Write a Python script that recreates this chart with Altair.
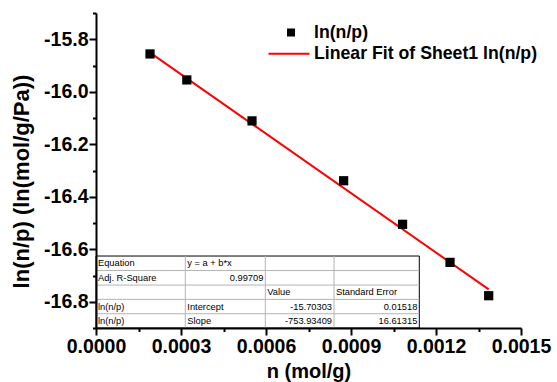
import altair as alt
import pandas as pd

# ---- data ----
n_vals = [0.0001906, 0.0003205, 0.0005506, 0.000874, 0.001082, 0.0012495, 0.001386]
ln_vals = [-15.856, -15.955, -16.111, -16.339, -16.505, -16.650, -16.777]
fit_n = [0.0001906, 0.001386]
fit_ln = [-15.851, -16.753]

x_major = [0.0, 0.0003, 0.0006, 0.0009, 0.0012, 0.0015]
x_minor = [0.00015, 0.00045, 0.00075, 0.00105, 0.00135]
y_major = [-15.8, -16.0, -16.2, -16.4, -16.6, -16.8]
y_minor = [-15.7, -15.9, -16.1, -16.3, -16.5, -16.7, -16.9]

legend_labels = ["ln(n/p)", "Linear Fit of Sheet1 ln(n/p)"]

table_col1 = ["Equation", "Adj. R-Square", "", "ln(n/p)", "ln(n/p)"]
table_col2 = ["y = a + b*x", "0.99709", "", "Intercept", "Slope"]
table_col3 = ["", "", "Value", "-15.70303", "-753.93409"]
table_col4 = ["", "", "Standard Error", "0.01518", "16.61315"]

# table layout (in data units of the plot)
col_edges = [0.0, 0.0003152, 0.0005976, 0.00084, 0.0011411]
row_edges = [-16.6258, -16.6811, -16.7364, -16.7909, -16.8457, -16.9]

FONT = "Liberation Sans"
xs = alt.Scale(domain=[0, 0.0015], nice=False, zero=False)
ys = alt.Scale(domain=[-16.9, -15.7], nice=False, zero=False)

pts = pd.DataFrame({"n": n_vals, "ln": ln_vals})
fit = pd.DataFrame({"n": fit_n, "ln": fit_ln})

common_axis = dict(domainColor="black", tickColor="black", grid=False, zindex=2,
                   labelFont=FONT, labelColor="black", titleFont=FONT, titleColor="black")

x_axis_major = alt.Axis(values=x_major, format=".4f", orient="bottom",
                        tickSize=7, tickWidth=2, domainWidth=2,
                        labelFontSize=19.5, labelFontWeight="bold", labelPadding=2,
                        labelFlush=False, labelOverlap=False,
                        title="n (mol/g)", titleFontSize=20, titleFontWeight="bold",
                        titleBaseline="alphabetic", titleY=49, **common_axis)
y_axis_major = alt.Axis(values=y_major, orient="left",
                        labelExpr="(datum.value < 0 ? '-' : '') + format(abs(datum.value), '.1f')",
                        tickSize=7, tickWidth=2, domainWidth=2,
                        labelFontSize=19.5, labelFontWeight="bold", labelPadding=1,
                        labelFlush=False, labelOverlap=False,
                        title="ln(n/p) (ln(mol/g/Pa))", titleFontSize=22, titleFontWeight="bold",
                        titleBaseline="alphabetic", titleX=-68, titleY=168, titleAngle=270,
                        **common_axis)
x_axis_minor = alt.Axis(values=x_minor, orient="bottom", labels=False, domain=False,
                        tickSize=3.5, tickWidth=2, title="", **common_axis)
y_axis_minor = alt.Axis(values=y_minor, orient="left", labels=False, domain=False,
                        tickSize=3.5, tickWidth=2, title="", **common_axis)

points = alt.Chart(pts).mark_square(size=85, color="black", opacity=1).encode(
    x=alt.X("n:Q", scale=xs, axis=x_axis_major),
    y=alt.Y("ln:Q", scale=ys, axis=y_axis_major),
)
minor = alt.Chart(pts).mark_square(size=1, opacity=0).encode(
    x=alt.X("n:Q", scale=xs, axis=x_axis_minor),
    y=alt.Y("ln:Q", scale=ys, axis=y_axis_minor),
)
line = alt.Chart(fit).mark_line(color="#ff0000", strokeWidth=2).encode(
    x=alt.X("n:Q", scale=xs, axis=None),
    y=alt.Y("ln:Q", scale=ys, axis=None),
)

# ---- table ----
box = pd.DataFrame({"x0": [col_edges[0]], "x1": [col_edges[-1]],
                    "y0": [row_edges[-1]], "y1": [row_edges[0]]})
table_box = alt.Chart(box).mark_rect(fill="white", stroke="black", strokeWidth=1).encode(
    x=alt.X("x0:Q", scale=xs, axis=None), x2="x1:Q",
    y=alt.Y("y0:Q", scale=ys, axis=None), y2="y1:Q",
)
hl = pd.DataFrame({"x0": [col_edges[0]] * 4, "x1": [col_edges[-1]] * 4, "y": row_edges[1:5]})
hlines = alt.Chart(hl).mark_rule(color="#b4b4b4", strokeWidth=1).encode(
    x=alt.X("x0:Q", scale=xs, axis=None), x2="x1:Q",
    y=alt.Y("y:Q", scale=ys, axis=None),
)
vl = pd.DataFrame({"x": col_edges[1:4], "y0": [row_edges[-1]] * 3, "y1": [row_edges[0]] * 3})
vlines = alt.Chart(vl).mark_rule(color="#b4b4b4", strokeWidth=1).encode(
    x=alt.X("x:Q", scale=xs, axis=None),
    y=alt.Y("y0:Q", scale=ys, axis=None), y2="y1:Q",
)

cells = []
cols = [table_col1, table_col2, table_col3, table_col4]
for c, col in enumerate(cols):
    for r, txt in enumerate(col):
        if not txt:
            continue
        numeric = txt[0].isdigit() or txt[0] == "-"
        cells.append({
            "text": txt,
            "xa": col_edges[c + 1] if numeric else col_edges[c],
            "yc": (row_edges[r] + row_edges[r + 1]) / 2,
            "align": "right" if numeric else "left",
        })
cells = pd.DataFrame(cells)
tleft = alt.Chart(cells[cells["align"] == "left"]).mark_text(
    align="left", baseline="middle", dx=2, font=FONT, fontSize=9.3, color="black").encode(
    x=alt.X("xa:Q", scale=xs, axis=None), y=alt.Y("yc:Q", scale=ys, axis=None), text="text:N")
tright = alt.Chart(cells[cells["align"] == "right"]).mark_text(
    align="right", baseline="middle", dx=-2, font=FONT, fontSize=9.3, color="black").encode(
    x=alt.X("xa:Q", scale=xs, axis=None), y=alt.Y("yc:Q", scale=ys, axis=None), text="text:N")

# ---- legend ----
leg1 = pd.DataFrame({"label": [legend_labels[0]]})
leg2 = pd.DataFrame({"label": [legend_labels[1]]})
leg_sq = alt.Chart(leg1).mark_square(size=64, color="black", opacity=1).encode(
    x=alt.value(195), y=alt.value(19.5))
leg_t1 = alt.Chart(leg1).mark_text(align="left", baseline="alphabetic", font=FONT, fontSize=17.7,
                                   fontWeight="bold", color="black").encode(
    x=alt.value(218), y=alt.value(24.5), text="label:N")
leg_ln = alt.Chart(leg2).mark_rule(color="#ff0000", strokeWidth=2).encode(
    x=alt.value(172.5), x2=alt.value(213.5), y=alt.value(40.7))
leg_t2 = alt.Chart(leg2).mark_text(align="left", baseline="alphabetic", font=FONT, fontSize=17.7,
                                   fontWeight="bold", color="black").encode(
    x=alt.value(218), y=alt.value(45.5), text="label:N")

chart = alt.layer(
    minor, table_box, hlines, vlines, tleft, tright, line, points,
    leg_sq, leg_t1, leg_ln, leg_t2,
).resolve_axis(x="independent", y="independent").properties(
    width=425, height=315,
    autosize=alt.AutoSizeParams(type="none"),
    padding={"left": 96, "top": 13, "right": 36, "bottom": 54},
    background="white",
).configure_view(strokeWidth=0)

chart.save("out.html", embed_options={"renderer": "svg", "actions": False})
